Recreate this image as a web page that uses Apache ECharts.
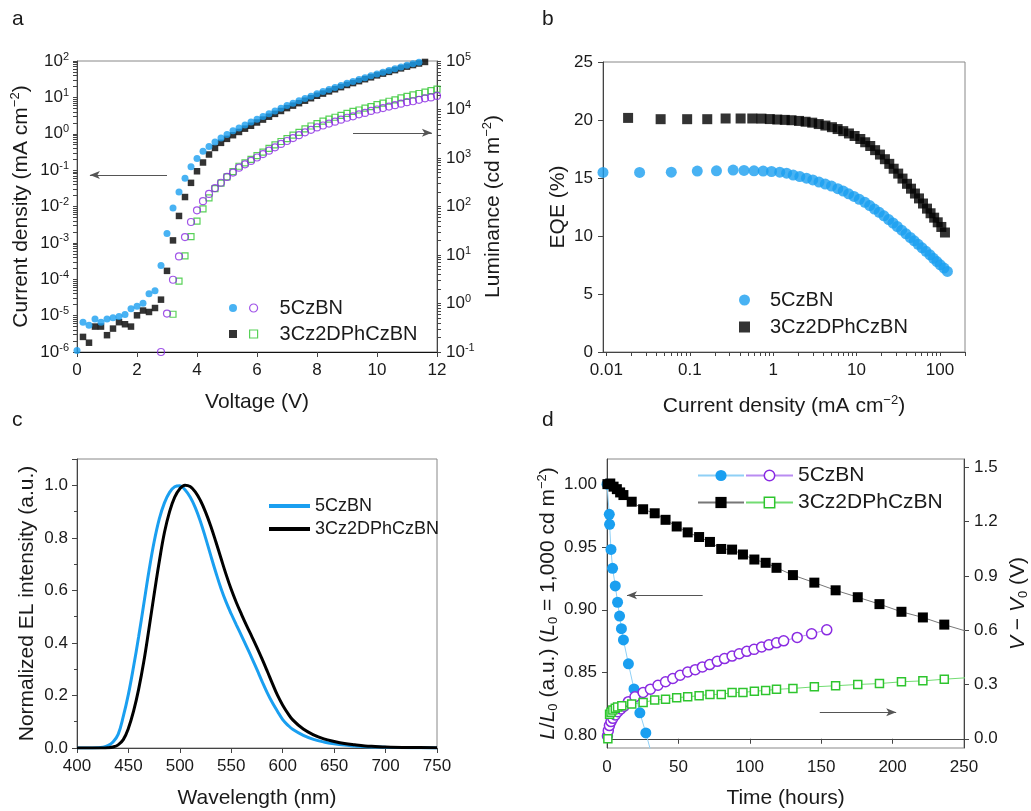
<!DOCTYPE html>
<html><head><meta charset="utf-8">
<script src="https://cdn.jsdelivr.net/npm/echarts@6/dist/echarts.min.js"></script>
<style>html,body{margin:0;padding:0;background:#fff}#chart{width:1031px;height:811px}</style>
</head><body><div id="chart"></div>
<script>
// ---------- Panel a: J-V-L ----------
const voltage = [0,0.2,0.4,0.6,0.8,1,1.2,1.4,1.6,1.8,2,2.2,2.4,2.6,2.8,3,3.2,3.4,3.6,3.8,4,4.2,4.4,4.6,4.8,5,5.2,5.4,5.6,5.8,6,6.2,6.4,6.6,6.8,7,7.2,7.4,7.6,7.8,8,8.2,8.4,8.6,8.8,9,9.2,9.4,9.6,9.8,10,10.2,10.4,10.6,10.8,11,11.2,11.4,11.6,11.8,12];
const currentDensity5CzBN = [1.1e-6,6.6e-6,5.4e-6,8.1e-6,6.6e-6,8.1e-6,8.7e-6,9.5e-6,1.07e-5,1.55e-5,1.8e-5,2.2e-5,4.0e-5,4.8e-5,2.4e-4,
  1.8e-3,9.1e-3,0.025,0.060,0.123,0.209,0.331,0.447,0.589,0.759,0.955,1.20,1.45,1.74,2.09,2.51,
  2.99,3.55,4.22,5.01,5.96,6.92,8.04,9.33,10.8,12.6,14.4,16.4,18.7,21.3,24.3,27.4,30.8,34.8,39.2,44.2,49.2,54.8,61.1,68.1,75.9,83.6,92.0,101,112,123];
const currentDensity3Cz2DPhCzBN = [null,2.6e-6,1.8e-6,5.0e-6,5.0e-6,2.9e-6,4.4e-6,6.6e-6,5.8e-6,5.0e-6,1.02e-5,1.38e-5,1.26e-5,1.62e-5,2.75e-5,
  1.7e-4,1.17e-3,5.5e-3,0.0182,0.0447,0.093,0.162,0.269,0.407,0.562,0.724,0.912,1.12,1.38,1.66,2.04,
  2.45,2.94,3.52,4.23,5.07,5.93,6.93,8.11,9.48,11.1,12.7,14.6,16.7,19.1,21.9,24.7,27.9,31.6,35.6,40.3,45.0,50.2,56.1,62.7,70.0,77.3,85.3,94.2,104,115];
const luminance5CzBN = [null,null,null,null,null,null,null,null,null,null,null,null,null,null,
  0.1,0.62,3.09,9.33,23.4,47.9,83.2,129,182,240,309,407,501,631,741,871,1023,
  1202,1413,1660,1950,2239,2570,2951,3388,3802,4266,4677,5129,5623,6166,6761,7244,7943,8511,9333,10000,10720,11480,12300,13180,14130,14790,15850,16980,17780,19050];
const luminance3Cz2DPhCzBN = [null,null,null,null,null,null,null,null,null,null,null,null,null,null,null,null,
  0.60,2.88,9.55,24.0,50.1,89.1,151,234,302,407,525,676,794,933,1122,
  1318,1585,1862,2188,2512,2951,3388,3981,4571,5129,5754,6310,6918,7586,8318,9120,9772,10720,11480,12590,13490,14790,15850,17380,18620,19950,21380,22910,24550,26300];

// ---------- Panel b: EQE (same voltage steps as panel a) ----------
const eqe5CzBN = [null,null,null,null,null,null,null,null,null,null,null,null,null,null,null,null,
  15.48,15.48,15.50,15.60,15.62,15.68,15.65,15.62,15.60,15.56,15.50,15.42,15.25,15.12,14.98,
  14.83,14.65,14.48,14.30,14.08,13.87,13.64,13.41,13.16,12.90,12.62,12.32,12.04,11.74,11.42,11.12,10.82,10.50,10.19,9.87,9.58,9.28,8.98,8.68,8.38,8.08,7.80,7.52,7.24,6.95];
const eqe3Cz2DPhCzBN = [null,null,null,null,null,null,null,null,null,null,null,null,null,null,null,null,null,null,
  20.18,20.07,20.07,20.07,20.13,20.13,20.13,20.12,20.08,20.04,20.01,19.98,19.92,
  19.85,19.77,19.65,19.52,19.38,19.22,19.04,18.84,18.62,18.36,18.08,17.76,17.40,17.02,16.62,16.22,15.80,15.38,14.95,14.50,14.08,13.66,13.24,12.80,12.36,11.96,11.58,11.18,10.78,10.30];

// ---------- Panel c: EL spectra ----------
const wavelength = [400,410,420,425,430,435,440,445,450,455,460,465,470,475,480,485,490,495,500,505,510,515,520,525,530,535,540,545,550,555,560,565,570,575,580,585,590,595,600,605,610,620,630,640,650,660,670,680,690,700,725,750];
const el5CzBN = [0,0,0.001,0.003,0.009,0.023,0.052,0.12,0.205,0.31,0.425,0.55,0.675,0.785,0.872,0.933,0.973,0.994,0.998,0.983,0.955,0.915,0.862,0.80,0.733,0.668,0.607,0.555,0.51,0.468,0.427,0.385,0.342,0.298,0.253,0.21,0.172,0.139,0.108,0.087,0.07,0.048,0.033,0.023,0.016,0.011,0.008,0.005,0.004,0.003,0.001,0];
const el3Cz2DPhCzBN = [0,0,0,0,0.001,0.004,0.012,0.032,0.075,0.14,0.225,0.33,0.455,0.585,0.71,0.82,0.90,0.955,0.987,1.0,0.995,0.975,0.942,0.898,0.845,0.785,0.722,0.66,0.603,0.553,0.508,0.465,0.424,0.382,0.338,0.292,0.245,0.20,0.163,0.132,0.106,0.072,0.05,0.035,0.025,0.017,0.012,0.008,0.006,0.004,0.002,0.001];

// ---------- Panel d: lifetime ----------
const timeL5CzBN = [0,1.6,1.8,2.8,3.9,5.8,7.4,8.8,10.1,11.5,15.0,18.9,23.0,27.2,31.0];
const relL5CzBN  = [1.0,0.976,0.968,0.948,0.933,0.919,0.906,0.895,0.885,0.876,0.857,0.837,0.818,0.802,0.786];
const timeL3Cz = [0.3,2.3,4.6,6.9,9.2,11.5,17.3,25.3,33.4,41.0,48.8,56.5,64.5,72.1,80.0,87.6,95.2,103.2,111.1,118.7,130.2,145.2,160.1,175.6,190.8,206.2,221.2,236.2,251.5];
const relL3Cz  = [1.0,1.0005,0.998,0.996,0.9934,0.9913,0.986,0.980,0.9768,0.9716,0.9663,0.9616,0.9579,0.954,0.9484,0.9479,0.944,0.940,0.9374,0.9334,0.9276,0.9216,0.9155,0.910,0.9045,0.8984,0.8939,0.8882,0.8830];
const timeV5CzBN = [0.3,0.9,1.7,2.8,4.1,5.8,7.6,9.7,12.0,15.0,19.6,25.3,30.4,35.7,41.0,46.1,51.2,56.5,61.8,66.8,71.9,77.2,82.3,87.6,92.6,97.9,103.0,108.3,113.4,118.7,123.7,133.2,143.3,153.9];
const dV5CzBN = [0.015,0.045,0.073,0.095,0.113,0.132,0.150,0.165,0.180,0.205,0.232,0.256,0.274,0.296,0.315,0.333,0.351,0.369,0.382,0.397,0.410,0.428,0.443,0.457,0.470,0.483,0.494,0.507,0.519,0.530,0.541,0.560,0.580,0.602];
const timeV3Cz = [0.6,1.8,2.8,4.1,5.8,7.4,10.4,17.3,25.3,33.4,41.0,48.8,56.5,64.5,72.1,80.0,87.6,95.2,103.2,111.1,118.7,130.2,145.2,160.1,175.6,190.8,206.2,221.2,236.2,251.5];
const dV3Cz = [0.0,0.135,0.146,0.159,0.168,0.176,0.183,0.192,0.201,0.214,0.219,0.227,0.232,0.238,0.245,0.245,0.256,0.256,0.263,0.267,0.273,0.278,0.287,0.293,0.300,0.305,0.315,0.320,0.329,0.337];

// ---------- tick labels ----------
const jDecades = [1e-6,1e-5,1e-4,1e-3,1e-2,1e-1,1,10,100];
const lumDecades = [0.1,1,10,100,1e3,1e4,1e5];
const eqeXTicks = [0.01,0.1,1,10,100];
const lifeLTicks = [0.80,0.85,0.90,0.95,1.00];
const lifeVTicks = [0.0,0.3,0.6,0.9,1.2,1.5];
const names = ['5CzBN','3Cz2DPhCzBN'];

// ---------- annotation arrows ----------
const arrowA_J = [[3.0,0.074],[0.43,0.074]];
const arrowA_L = [[9.2,3300],[11.83,3300]];
const arrowD_L = [[67,0.9115],[14,0.9115]];
const arrowD_V = [[149,0.8185],[202.5,0.8185]];

// ---------- styling ----------
const FONT = 'Liberation Sans, Arial, Helvetica, sans-serif';
const BLUE = '#1a9ff0', PURPLE = '#8a2be2', GREEN = '#2ec52e', BLACK = '#000';
const AX = '#444', TXT = '#1a1a1a';

function pairs(xs, ys){ const o=[]; for(let i=0;i<xs.length;i++){ if(xs[i]!=null && ys[i]!=null) o.push([xs[i],ys[i]]); } return o; }
// decade ticks plus the 2..9 minor ticks of a log axis
function logTicks(lo, hi){ const o=[]; for(let n=lo;n<=hi;n++){ for(let m=1;m<=9;m++){ if(n===hi && m>1) break; o.push(Number((m*Math.pow(10,n)).toPrecision(3))); } } return o; }
function arrowLine(a){ return { silent:true, symbol:['none','arrow'], symbolSize:[6,10], label:{show:false},
  lineStyle:{color:'#555', width:1, type:'solid'}, emphasis:{disabled:true}, animation:false,
  data:[[{coord:a[0]},{coord:a[1]}]] }; }

const supRich = { sup:{fontSize:11, lineHeight:11, verticalAlign:'top', fontFamily:FONT, color:TXT} };
const nameRich = {
  sup:{fontSize:13, lineHeight:13, verticalAlign:'top', fontFamily:FONT, color:TXT},
  sub:{fontSize:13, lineHeight:13, verticalAlign:'bottom', fontFamily:FONT, color:TXT},
  i:{fontSize:21, fontStyle:'italic', fontFamily:FONT, color:TXT}
};
const nameStyle = {fontSize:21, lineHeight:24, fontFamily:FONT, color:TXT, rich:nameRich};
const lblStyle = {fontSize:17, fontFamily:FONT, color:TXT};
const axLine = {show:true, lineStyle:{color:AX, width:1}};
const tick = {show:true, length:5, lineStyle:{color:AX}};
const logTick = {show:true, length:4, lineStyle:{color:AX}};
const expFmt = v => '10{sup|' + Math.round(Math.log10(v)) + '}';

const legendText = {fontFamily:FONT, color:TXT};

const option = {
  animation:false,
  backgroundColor:'#fff',
  textStyle:{fontFamily:FONT},
  graphic:[
    {type:'text', left:12, top:9, style:{text:'a', font:'21px '+FONT, fill:TXT}},
    {type:'text', left:542, top:9, style:{text:'b', font:'21px '+FONT, fill:TXT}},
    {type:'text', left:12, top:410, style:{text:'c', font:'21px '+FONT, fill:TXT}},
    {type:'text', left:542, top:410, style:{text:'d', font:'21px '+FONT, fill:TXT}}
  ],
  grid:[
    {left:77, top:61, width:360, height:291, show:true, borderColor:'#888', borderWidth:1},
    {left:603, top:62, width:362, height:290, show:true, borderColor:'#888', borderWidth:1},
    {left:77, top:459, width:360, height:290, show:true, borderColor:'#888', borderWidth:1},
    {left:607, top:459, width:361, height:291, show:true, borderColor:'#888', borderWidth:1}
  ],
  xAxis:[
    {gridIndex:0, type:'value', min:0, max:12, interval:2, name:'Voltage (V)', nameLocation:'middle', nameGap:38,
     nameTextStyle:nameStyle, axisLine:{show:true, lineStyle:{color:'#111'}}, axisTick:tick, splitLine:{show:false},
     axisLabel:{...lblStyle, margin:10}},
    {gridIndex:1, type:'log', logBase:10, min:0.0091, max:200, position:'bottom', name:'Current density (mA cm{sup|\u22122})', nameLocation:'middle', nameGap:42,
     nameTextStyle:nameStyle, axisLine:axLine, splitLine:{show:false},
     axisTick:{...logTick, customValues:logTicks(-2,2).concat([200])},
     axisLabel:{...lblStyle, margin:10, customValues:eqeXTicks, formatter:v=>String(Number(v.toPrecision(2)))}},
    {gridIndex:2, type:'value', min:400, max:750, interval:50, name:'Wavelength (nm)', nameLocation:'middle', nameGap:38,
     nameTextStyle:nameStyle, axisLine:axLine, axisTick:tick, splitLine:{show:false}, axisLabel:{...lblStyle, margin:10}},
    {gridIndex:3, type:'value', min:0, max:250, interval:50, name:'Time (hours)', nameLocation:'middle', nameGap:38,
     nameTextStyle:nameStyle, axisLine:axLine, axisTick:tick, splitLine:{show:false}, axisLabel:{...lblStyle, margin:11}}
  ],
  yAxis:[
    {gridIndex:0, type:'log', logBase:10, min:1e-6, max:100, position:'left', name:'Current density (mA cm{sup|\u22122})',
     nameLocation:'middle', nameGap:44, nameRotate:90, nameTextStyle:nameStyle, axisLine:axLine, splitLine:{show:false},
     axisTick:{...logTick, customValues:logTicks(-6,2)},
     axisLabel:{...lblStyle, lineHeight:20, margin:8, customValues:jDecades, formatter:expFmt, rich:supRich}},
    {gridIndex:0, type:'log', logBase:10, min:0.1, max:1e5, position:'right', name:'Luminance (cd m{sup|\u22122})',
     nameLocation:'middle', nameGap:44, nameRotate:90, nameTextStyle:nameStyle, axisLine:axLine, splitLine:{show:false},
     axisTick:{...logTick, customValues:logTicks(-1,5)},
     axisLabel:{...lblStyle, lineHeight:20, margin:9, customValues:lumDecades, formatter:expFmt, rich:supRich}},
    {gridIndex:1, type:'value', min:0, max:25, interval:5, name:'EQE (%)', nameLocation:'middle', nameGap:30, nameRotate:90,
     nameTextStyle:nameStyle, axisLine:axLine, axisTick:tick, splitLine:{show:false}, axisLabel:{...lblStyle, margin:10}},
    {gridIndex:2, type:'value', min:0, max:1.1, interval:0.2, name:'Normalized EL intensity (a.u.)', nameLocation:'middle', nameGap:38, nameRotate:90,
     nameTextStyle:nameStyle, axisLine:axLine, axisTick:tick, minorTick:{show:true, splitNumber:2, length:3, lineStyle:{color:AX}},
     splitLine:{show:false}, axisLabel:{...lblStyle, margin:9, showMaxLabel:false, formatter:v=>v.toFixed(1)}},
    {gridIndex:3, type:'value', min:0.79, max:1.02, position:'left',
     name:'{i|L}/{i|L}{sub|0} (a.u.) ({i|L}{sub|0} = 1,000 cd m{sup|\u22122})', nameLocation:'middle', nameGap:45, nameRotate:90,
     nameTextStyle:nameStyle, axisLine:axLine, splitLine:{show:false},
     axisTick:{...tick, customValues:lifeLTicks},
     axisLabel:{...lblStyle, margin:10, customValues:lifeLTicks, formatter:v=>v.toFixed(2)}},
    {gridIndex:3, type:'value', min:-0.051, max:1.546, position:'right',
     name:'{i|V} \u2212 {i|V}{sub|0} (V)', nameLocation:'middle', nameGap:42, nameRotate:90,
     nameTextStyle:nameStyle, axisLine:axLine, splitLine:{show:false},
     axisTick:{...tick, customValues:lifeVTicks},
     axisLabel:{...lblStyle, margin:10, customValues:lifeVTicks, formatter:v=>v.toFixed(1)}}
  ],
  legend:[
    {data:['J5','J3'], orient:'vertical', left:224, top:293, itemWidth:8, itemHeight:8, itemGap:6, selectedMode:false,
     formatter:()=>' ', textStyle:{...legendText, fontSize:20, lineHeight:20}},
    {data:[{name:'L5', itemStyle:{borderWidth:1.2}},{name:'L3', itemStyle:{borderWidth:1.2}}], orient:'vertical', left:244, top:293,
     itemWidth:8, itemHeight:8, itemGap:6, selectedMode:false,
     formatter:n=>n==='L5'?names[0]:names[1], textStyle:{...legendText, fontSize:20, lineHeight:20, padding:[0,0,0,17]}},
    {data:['E5','E3'], orient:'vertical', left:734, top:285, itemWidth:11, itemHeight:11, itemGap:7, selectedMode:false,
     formatter:n=>n==='E5'?names[0]:names[1], textStyle:{...legendText, fontSize:20, lineHeight:20, padding:[0,0,0,15]}},
    {data:['S5','S3'], orient:'vertical', left:262, top:492, itemWidth:41, itemHeight:6, itemGap:5, selectedMode:false,
     itemStyle:{opacity:0}, lineStyle:{width:4}, formatter:n=>n==='S5'?names[0]:names[1], textStyle:{...legendText, fontSize:18, lineHeight:18}},
    {data:['D5L','D3L'], orient:'vertical', left:692, top:460, itemWidth:46, itemHeight:14, itemGap:6, selectedMode:false,
     formatter:()=>' ', textStyle:{...legendText, fontSize:21, lineHeight:21}},
    {data:[{name:'D5V', itemStyle:{borderWidth:1.5}},{name:'D3V', itemStyle:{borderWidth:1.5}}], orient:'vertical', left:740, top:460,
     itemWidth:47, itemHeight:13, itemGap:6, selectedMode:false,
     formatter:n=>n==='D5V'?names[0]:names[1], textStyle:{...legendText, fontSize:21, lineHeight:21}}
  ],
  series:[
    // panel a
    {name:'J3', type:'scatter', xAxisIndex:0, yAxisIndex:0, data:pairs(voltage,currentDensity3Cz2DPhCzBN),
     symbol:'rect', symbolSize:6.5, itemStyle:{color:BLACK}},
    {name:'J5', type:'scatter', xAxisIndex:0, yAxisIndex:0, data:pairs(voltage,currentDensity5CzBN),
     symbol:'circle', symbolSize:7, itemStyle:{color:BLUE}, markLine:arrowLine(arrowA_J)},
    {name:'L3', type:'scatter', xAxisIndex:0, yAxisIndex:1, data:pairs(voltage,luminance3Cz2DPhCzBN),
     symbol:'rect', symbolSize:6, itemStyle:{color:'rgba(255,255,255,0)', borderColor:GREEN, borderWidth:1.2}},
    {name:'L5', type:'scatter', xAxisIndex:0, yAxisIndex:1, data:pairs(voltage,luminance5CzBN),
     symbol:'circle', symbolSize:7, itemStyle:{color:'rgba(255,255,255,0)', borderColor:PURPLE, borderWidth:1.2}, markLine:arrowLine(arrowA_L)},
    // panel b
    {name:'E5', type:'scatter', xAxisIndex:1, yAxisIndex:2, data:pairs(currentDensity5CzBN,eqe5CzBN),
     symbol:'circle', symbolSize:11, itemStyle:{color:BLUE}},
    {name:'E3', type:'scatter', xAxisIndex:1, yAxisIndex:2, data:pairs(currentDensity3Cz2DPhCzBN,eqe3Cz2DPhCzBN),
     symbol:'rect', symbolSize:10, itemStyle:{color:BLACK}},
    // panel c
    {name:'S5', type:'line', xAxisIndex:2, yAxisIndex:3, data:pairs(wavelength,el5CzBN), smooth:0.4, showSymbol:false, symbol:'none',
     lineStyle:{color:BLUE, width:3}, itemStyle:{color:BLUE}},
    {name:'S3', type:'line', xAxisIndex:2, yAxisIndex:3, data:pairs(wavelength,el3Cz2DPhCzBN), smooth:0.4, showSymbol:false, symbol:'none',
     lineStyle:{color:BLACK, width:3}, itemStyle:{color:BLACK}},
    // panel d
    {name:'D5L', type:'line', xAxisIndex:3, yAxisIndex:4, data:pairs(timeL5CzBN,relL5CzBN), symbol:'circle', symbolSize:11,
     itemStyle:{color:BLUE}, lineStyle:{color:'#8fd0f6', width:1}, markLine:arrowLine(arrowD_L)},
    {name:'D3L', type:'line', xAxisIndex:3, yAxisIndex:4, data:pairs(timeL3Cz,relL3Cz), symbol:'rect', symbolSize:10,
     itemStyle:{color:BLACK}, lineStyle:{color:'#777', width:1}, markLine:arrowLine(arrowD_V)},
    {name:'D5V', type:'line', xAxisIndex:3, yAxisIndex:5, data:pairs(timeV5CzBN,dV5CzBN), symbol:'circle', symbolSize:10,
     itemStyle:{color:'#fff', borderColor:PURPLE, borderWidth:1.5}, lineStyle:{color:'#b98cf2', width:1}},
    {name:'D3V', type:'line', xAxisIndex:3, yAxisIndex:5, data:pairs(timeV3Cz,dV3Cz), symbol:'rect', symbolSize:8,
     itemStyle:{color:'#fff', borderColor:GREEN, borderWidth:1.5}, lineStyle:{color:'#72dc72', width:1}}
  ]
};
const chart = echarts.init(document.getElementById('chart'), null, {renderer:'canvas'});
chart.setOption(option);
</script></body></html>
